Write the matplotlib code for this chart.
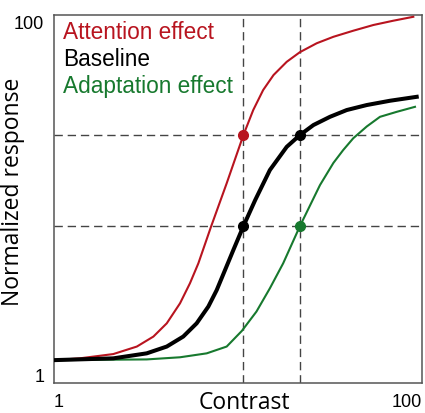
import matplotlib
matplotlib.use('Agg')
import matplotlib.pyplot as plt

# values (contrast on a log axis, response 0-100)
attn_contrast = [1.0, 1.38, 2.10, 2.82, 3.47, 4.10, 4.84, 5.48, 6.09, 7.13, 8.68,
                 10.7, 12.1, 13.7, 15.6, 18.4, 21.7, 26.8, 33.0, 42.3, 54.4,
                 69.8, 89.7]
attn_response = [5.4, 5.9, 7.1, 9.2, 12.0, 15.7, 21.3, 26.9, 32.5, 42.7, 54.9,
                 68.4, 75.4, 81.0, 85.2, 88.9, 91.6, 94.1, 95.9, 97.6, 99.2,
                 100.4, 101.5]

base_contrast = [1.0, 2.10, 3.19, 4.10, 5.04, 5.96, 6.90, 7.66, 8.50, 9.43, 10.7,
                 12.4, 14.9, 18.4, 21.7, 25.7, 31.6, 39.0, 50.1, 67.0, 93.6]
base_response = [5.4, 5.9, 7.3, 9.2, 12.0, 15.7, 20.4, 25.0, 30.6, 36.2, 42.9,
                 50.2, 58.6, 65.1, 68.4, 71.2, 73.5, 75.4, 76.8, 78.0, 79.1]

adapt_contrast = [1.0, 3.19, 4.84, 6.76, 8.68, 10.5, 12.6, 14.9, 17.6, 21.7, 27.9,
                  33.0, 37.3, 42.3, 50.1, 59.1, 72.9, 91.6]
adapt_response = [5.4, 5.6, 6.2, 7.3, 9.2, 13.6, 19.0, 25.5, 32.5, 42.9, 54.4,
                  60.6, 64.2, 67.5, 70.8, 73.5, 74.9, 76.3]

# reference lines and the points where curves cross them
ref_contrast = [10.7, 21.7]
ref_response = [42.9, 68.4]
dot_contrast = [10.7, 10.7, 21.7, 21.7]
dot_response = [68.4, 42.9, 68.4, 42.9]

labels = ['Attention effect', 'Baseline', 'Adaptation effect']
red = '#b8141f'
green = '#17792e'
dot_colors = [red, 'black', 'black', green]

fig = plt.figure(figsize=(4.25, 4.13), dpi=100)
ax = fig.add_axes([54 / 425, 30 / 413, 368 / 425, 368 / 413])

# dashed guides
for c in ref_contrast:
    ax.axvline(c, color='#444444', lw=1.0, ls=(0, (6, 3.5)), zorder=1)
for r in ref_response:
    ax.axhline(r, color='#444444', lw=1.0, ls=(0, (6, 3.5)), zorder=1)

ax.plot(adapt_contrast, adapt_response, color=green, lw=1.5, zorder=2,
        solid_joinstyle='round')
ax.plot(attn_contrast, attn_response, color=red, lw=1.5, zorder=3,
        solid_joinstyle='round')
ax.plot(base_contrast, base_response, color='black', lw=2.9, zorder=4,
        solid_joinstyle='round')

for c, r, col in zip(dot_contrast, dot_response, dot_colors):
    ax.plot(c, r, 'o', color=col, ms=7, zorder=5)

ax.set_xscale('log')
ax.set_xlim(1, 100)
ax.set_ylim(-1, 102)
ax.minorticks_off()

ax.set_xticks([1, 100])
ax.set_xticklabels(['1', '100'], family='Liberation Sans', fontsize=13)
ax.get_xticklabels()[0].set_ha('left')
ax.get_xticklabels()[1].set_ha('right')
ax.set_yticks([1, 100])
ax.set_yticklabels(['1', '100'], family='Liberation Sans', fontsize=13)
ax.tick_params(length=0, pad=7)
ax.tick_params(axis='x', pad=8)

for s in ax.spines.values():
    s.set_color('#555555')
    s.set_linewidth(1.1)

ax.set_xlabel('Contrast', family='Open Sans', fontsize=16.5)
ax.xaxis.set_label_coords(0.517, -0.022)
ax.set_ylabel('Normalized response', family='Open Sans', fontsize=16.5)
ax.yaxis.set_label_coords(-0.08, 0.52)

text_y = [0.934, 0.861, 0.789]
for lab, col, ty in zip(labels, [red, 'black', green], text_y):
    ax.text(0.0245, ty, lab, color=col, family='Liberation Sans', fontsize=16.3,
            transform=ax.transAxes, va='baseline', ha='left')

fig.savefig('out.png', dpi=100)
